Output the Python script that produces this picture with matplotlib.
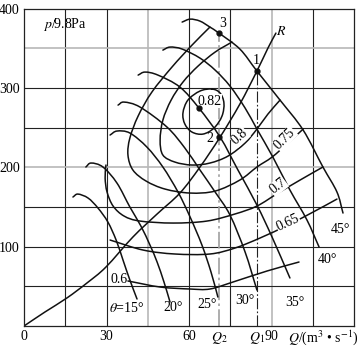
import numpy as np
import matplotlib
matplotlib.use('Agg')
import matplotlib.pyplot as plt
from matplotlib.path import Path
from matplotlib.patches import PathPatch

plt.rcParams['font.family'] = ['Liberation Serif', 'DejaVu Serif']
plt.rcParams['mathtext.fontset'] = 'stix'
plt.rcParams['font.size'] = 10

# blade angle curves theta: (Q, p)
theta_15_q = [17.8, 19.6, 23.3, 26.9, 30.5, 33.5, 36.0, 38.5, 41.1]
theta_15_p = [162.5, 166.2, 161.2, 148.6, 131.0, 108.3, 83.1, 57.9, 34.0]
theta_20_q = [22.5, 24.4, 28.7, 33.8, 38.5, 42.5, 45.8, 48.4, 50.9, 53.1]
theta_20_p = [200.3, 205.3, 200.3, 180.1, 149.9, 126.0, 102.0, 80.6, 55.4, 30.2]
theta_25_q = [31.3, 33.8, 38.5, 44.7, 50.5, 56.0, 60.4, 64.7, 68.0, 70.5]
theta_25_p = [240.6, 245.6, 243.1, 225.4, 200.3, 168.8, 137.3, 102.0, 68.0, 36.5]
theta_30_q = [34.2, 36.4, 42.2, 52.0, 58.5, 64.0, 69.5, 74.9, 80.4, 84.7]
theta_30_p = [278.3, 282.1, 275.8, 250.6, 224.2, 196.5, 168.8, 139.8, 93.2, 45.3]
theta_35_q = [41.5, 44.0, 48.7, 56.7, 63.6, 71.3, 77.8, 84.7, 90.2, 96.7]
theta_35_p = [316.1, 319.9, 316.1, 301.0, 274.6, 238.0, 196.5, 152.4, 112.1, 60.5]
theta_40_q = [50.5, 53.1, 57.5, 64.0, 69.5, 74.9, 80.4, 84.7, 90.5, 96.7, 102.9, 107.3]
theta_40_p = [347.6, 351.4, 348.9, 337.5, 322.4, 302.3, 274.6, 248.1, 212.8, 171.3, 133.5, 99.5]
theta_45_q = [57.5, 60.4, 64.0, 67.6, 70.9, 78.5, 84.7, 93.1, 101.5, 108.7, 113.8, 116.0]
theta_45_p = [382.9, 386.6, 384.1, 376.6, 369.0, 348.9, 321.2, 284.6, 246.9, 200.3, 168.8, 142.3]

# efficiency contours
eta_082_q = [68.4, 71.3, 72.7, 72.0, 69.1, 65.1, 61.1, 58.5, 57.8, 59.6, 64.0]
eta_082_p = [298.5, 293.5, 280.9, 264.5, 249.4, 241.8, 244.3, 254.4, 268.3, 284.6, 296.0]
eta_080_q = [75.6, 69.5, 63.3, 57.8, 53.5, 50.5, 49.5, 50.5, 54.9, 61.1, 67.6, 74.2, 80.4, 84.7, 88.7, 93.1]
eta_080_p = [357.7, 345.1, 327.5, 307.3, 284.6, 259.4, 234.3, 215.4, 206.5, 202.8, 205.3, 214.1, 230.5, 248.1, 267.0, 284.6]
eta_075_q = [67.6, 61.1, 53.8, 46.5, 41.5, 38.5, 37.8, 39.6, 44.4, 51.3, 60.4, 69.5, 78.5, 84.7, 90.2, 96.0, 101.5]
eta_075_p = [376.6, 353.9, 326.2, 294.7, 264.5, 236.8, 215.4, 196.5, 182.6, 172.5, 167.5, 170.0, 183.9, 200.3, 212.8, 230.5, 248.1]
eta_070_q = [29.8, 29.5, 30.2, 32.4, 36.4, 42.2, 54.2, 66.5, 76.7, 84.7, 92.4, 100.4, 108.7]
eta_070_p = [202.8, 186.4, 168.8, 151.1, 138.5, 132.2, 129.7, 132.2, 141.1, 151.1, 167.5, 183.9, 200.3]
eta_065_q = [31.3, 43.3, 54.9, 67.6, 76.7, 85.8, 96.0, 105.8, 113.8]
eta_065_p = [108.3, 95.7, 90.7, 90.7, 98.2, 110.8, 127.2, 144.8, 159.9]
eta_060_q = [37.8, 49.5, 60.4, 67.6, 76.0, 88.4, 100.0]
eta_060_p = [56.7, 49.1, 46.6, 46.6, 55.4, 69.3, 80.6]

# pipe resistance curve R
r_q = [0, 7.6, 15.6, 22.9, 29.8, 39.6, 48.4, 56.7, 64.0, 71.3, 78.5, 84.7, 88.7, 91.6]
r_p = [0, 17.6, 35.3, 54.2, 74.3, 112.1, 141.1, 167.5, 200.3, 238.0, 279.6, 321.2, 350.1, 369.0]

Q1, Q2 = 84.7, 71.0
pt_q = [84.7, 71.0, 71.0, 63.6]
pt_p = [321.2, 238.0, 369.0, 274.6]


def smooth(q, p, closed=False):
    pts = np.column_stack([q, p]).astype(float)
    if closed:
        pts = np.vstack([pts, pts[:1]])
        ext = np.vstack([pts[-2:-1], pts, pts[1:2]])
    else:
        ext = np.vstack([2 * pts[0] - pts[1], pts, 2 * pts[-1] - pts[-2]])
    verts = [pts[0]]
    codes = [Path.MOVETO]
    for i in range(len(pts) - 1):
        p0, p1, p2, p3 = ext[i], ext[i + 1], ext[i + 2], ext[i + 3]
        verts += [p1 + (p2 - p0) / 6, p2 - (p3 - p1) / 6, p2]
        codes += [Path.CURVE4] * 3
    return Path(verts, codes)


fig = plt.figure(figsize=(3.59, 3.47), dpi=100)
ax = fig.add_axes([24 / 359, 1 - 326 / 347, 330 / 359, 317.5 / 347])
ax.set_xlim(0, 120)
ax.set_ylim(0, 400)

# grid
for x in range(15, 120, 15):
    gray = x in (45, 90)
    ax.axvline(x, color='#b8b8b8' if gray else '#222222', lw=1.2 if gray else 0.8, zorder=0)
for y in range(50, 400, 50):
    gray = y in (200, 350)
    ax.axhline(y, color='#b8b8b8' if gray else '#222222', lw=1.2 if gray else 0.8, zorder=0)

# guide lines at Q1, Q2
ax.plot([Q2, Q2], [0, 369.0], color='#a0a0a0', lw=1.2, ls=(0, (10, 2, 1.5, 2)), zorder=1)
ax.plot([Q1, Q1], [0, 321.2], color='#222222', lw=0.8, ls=(0, (10, 2, 1.5, 2)), zorder=1)

curves = [
    (theta_15_q, theta_15_p, False), (theta_20_q, theta_20_p, False),
    (theta_25_q, theta_25_p, False), (theta_30_q, theta_30_p, False),
    (theta_35_q, theta_35_p, False), (theta_40_q, theta_40_p, False),
    (theta_45_q, theta_45_p, False),
    (eta_082_q, eta_082_p, True), (eta_080_q, eta_080_p, False),
    (eta_075_q, eta_075_p, False), (eta_070_q, eta_070_p, False),
    (eta_065_q, eta_065_p, False), (eta_060_q, eta_060_p, False),
    (r_q, r_p, False),
]
for q, p, closed in curves:
    ax.add_patch(PathPatch(smooth(q, p, closed), fill=False, lw=1.1,
                           ec='#111111', capstyle='round', zorder=2))

ax.plot(pt_q, pt_p, 'o', color='#111111', ms=3.5, zorder=4)

# efficiency labels
box = dict(fc='white', ec='none', pad=0.2)
ax.text(67.6, 283.4, '0.82', ha='center', va='center', bbox=box, zorder=3)
ax.text(78.5, 238.0, '0.8', ha='center', va='center', rotation=42, bbox=box, zorder=3)
ax.text(94.9, 236.0, '0.75', ha='center', va='center', rotation=45, bbox=box, zorder=3)
ax.text(92.4, 176.0, '0.7', ha='center', va='center', rotation=38, bbox=box, zorder=3)
ax.text(96.0, 130.0, '0.65', ha='center', va='center', rotation=25, bbox=box, zorder=3)
ax.text(34.5, 58.6, '0.6', ha='center', va='center', zorder=3)

# blade angle labels
ax.text(37.3, 22.7, r'$\theta$=15°', ha='center', va='center')
ax.text(54.2, 23.3, '20°', ha='center', va='center')
ax.text(66.5, 27.7, '25°', ha='center', va='center')
ax.text(80.4, 31.5, '30°', ha='center', va='center')
ax.text(98.5, 29.6, '35°', ha='center', va='center')
ax.text(110.5, 84.4, '40°', ha='center', va='center')
ax.text(114.9, 122.2, '45°', ha='center', va='center')

# point labels
ax.text(84.6, 335.0, '1', ha='center', va='center')
ax.text(72.4, 381.0, '3', ha='center', va='center')
ax.text(67.6, 236.4, '2', ha='center', va='center')
ax.text(93.6, 371.0, r'$R$', ha='center', va='center')
ax.text(14.9, 380.0, r'$p$/9.8Pa', ha='center', va='center')

# axes
ax.set_xticks([0, 30, 60, Q2, Q1, 90])
ax.set_xticklabels(['0', '30', '60', r'$Q_2$', r'$Q_1$', '90'])
ax.set_yticks([100, 200, 300, 400])
ax.tick_params(length=0, pad=3)
fig.text(358 / 359, 1 - 338 / 347, r'$Q$/(m$^3$ • s$^{-1}$)', ha='right', va='center')
for s in ax.spines.values():
    s.set_color('#222222')
    s.set_linewidth(0.9)

fig.savefig('out.png', dpi=100)
